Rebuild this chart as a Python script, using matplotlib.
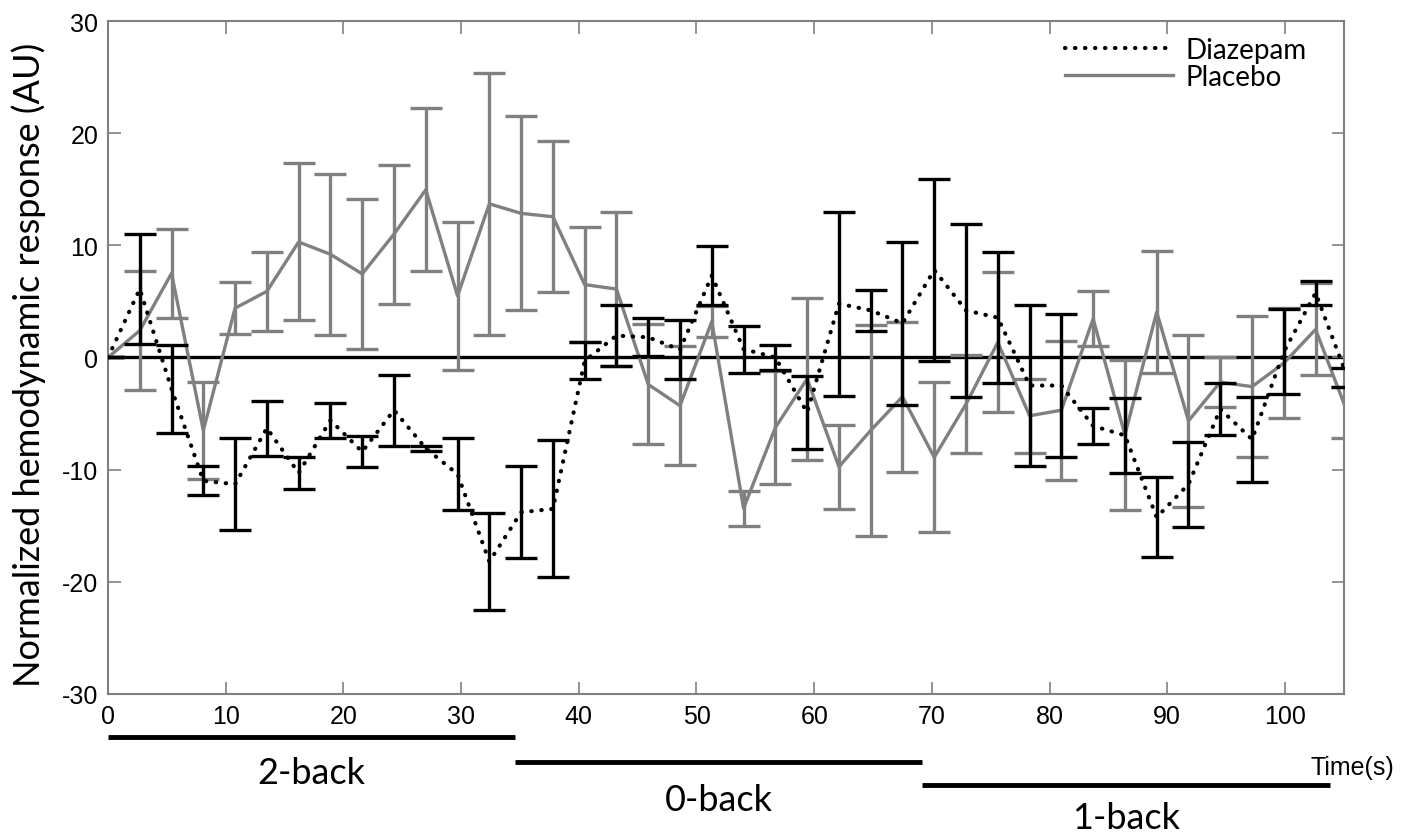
import matplotlib
matplotlib.use("Agg")
import matplotlib.pyplot as plt

# time points (s)
time_s = [0, 2.7, 5.4, 8.1, 10.8, 13.5, 16.2, 18.9, 21.6, 24.3,
          27.0, 29.7, 32.4, 35.1, 37.8, 40.5, 43.2, 45.9, 48.6, 51.3,
          54.0, 56.7, 59.4, 62.1, 64.8, 67.5, 70.2, 72.9, 75.6, 78.3,
          81.0, 83.7, 86.4, 89.1, 91.8, 94.5, 97.2, 99.9, 102.6, 105.3]

diazepam = [0, 6.1, -2.8, -11.0, -11.3, -6.3, -10.3, -5.6, -8.4, -4.7,
            -8.1, -10.4, -18.2, -13.8, -13.5, -0.3, 1.95, 1.8, 0.7, 7.3,
            0.75, 0.0, -4.9, 4.8, 4.2, 3.05, 7.8, 4.2, 3.55, -2.5,
            -2.5, -6.1, -6.95, -14.25, -11.3, -4.6, -7.3, 0.5, 5.75, -1.75]
diazepam_err = [0, 4.9, 3.9, 1.3, 4.1, 2.45, 1.4, 1.55, 1.4, 3.15,
                0.25, 3.2, 4.3, 4.1, 6.1, 1.65, 2.7, 1.7, 2.6, 2.6,
                2.1, 1.15, 3.25, 8.2, 1.85, 7.25, 8.1, 7.7, 5.85, 7.2,
                6.4, 1.6, 3.35, 3.55, 3.8, 2.3, 3.8, 3.8, 1.05, 0.85]

placebo = [0, 2.4, 7.5, -6.5, 4.4, 5.9, 10.3, 9.2, 7.45, 11.0,
           14.95, 5.5, 13.7, 12.85, 12.55, 6.5, 6.1, -2.4, -4.3, 3.2,
           -13.45, -6.25, -1.9, -9.75, -6.5, -3.5, -8.9, -4.15, 1.35, -5.2,
           -4.7, 3.45, -6.9, 4.05, -5.65, -2.2, -2.6, -0.5, 2.5, -4.9]
placebo_err = [0, 5.3, 4.0, 4.3, 2.3, 3.5, 7.0, 7.2, 6.65, 6.2,
               7.25, 6.6, 11.7, 8.65, 6.75, 5.1, 6.9, 5.35, 5.3, 1.4,
               1.55, 5.05, 7.2, 3.75, 9.4, 6.7, 6.7, 4.4, 6.25, 3.3,
               6.2, 2.45, 6.7, 5.4, 7.65, 2.2, 6.3, 4.9, 4.1, 2.3]

blocks = ["2-back", "0-back", "1-back"]
block_edges = [0, 34.6, 69.2, 103.8]

plt.rcParams['font.family'] = ['Liberation Sans', 'DejaVu Sans']
plt.rcParams['axes.unicode_minus'] = False

fig = plt.figure(figsize=(14.06, 8.37), dpi=100)
ax = fig.add_axes([0.0768, 0.1697, 0.879, 0.804])

gray = '#808080'
ax.axhline(0, color='black', lw=2.4, zorder=1)

ax.errorbar(time_s, placebo, yerr=placebo_err, fmt='none', ecolor=gray,
            elinewidth=2.4, capsize=11.5, capthick=2.4, zorder=2)
ax.plot(time_s, placebo, color=gray, lw=2.4, zorder=2, label='Placebo')

ax.errorbar(time_s, diazepam, yerr=diazepam_err, fmt='none', ecolor='black',
            elinewidth=2.4, capsize=11.5, capthick=2.4, zorder=3)
ax.plot(time_s, diazepam, color='black', lw=3, ls=(0, (0.1, 2.3)),
        dash_capstyle='round', zorder=3, label='Diazepam')

ax.set_xlim(0, 105)
ax.set_ylim(-30, 30)
ax.set_xticks(range(0, 101, 10))
ax.set_yticks(range(-30, 31, 10))
ax.tick_params(direction='in', length=9, width=1.2, color=gray,
               top=True, right=True, labelsize=18, pad=7)
for s in ax.spines.values():
    s.set_color(gray)
    s.set_linewidth(1.5)

ax.set_ylabel('Normalized hemodynamic response (AU)', fontsize=26,
              family=['Lato', 'DejaVu Sans'])
ax.yaxis.set_label_coords(-0.05, 0.49)

h, l = ax.get_legend_handles_labels()
ax.legend([h[1], h[0]], [l[1], l[0]], loc='upper left',
          bbox_to_anchor=(0.754, 1.014), frameon=False,
          handlelength=3.9, handletextpad=0.45, labelspacing=0.05,
          prop={'family': ['Lato', 'DejaVu Sans'], 'size': 20})

# task blocks under the axis
tr = ax.get_xaxis_transform()
bar_y = [-0.064, -0.101, -0.135]
lab_y = [-0.117, -0.157, -0.184]
for i, name in enumerate(blocks):
    x0, x1 = block_edges[i], block_edges[i + 1]
    ax.plot([x0, x1], [bar_y[i], bar_y[i]], color='black', lw=3.5,
            transform=tr, clip_on=False, solid_capstyle='butt')
    ax.text((x0 + x1) / 2, lab_y[i], name, transform=tr, ha='center',
            va='center', fontsize=26, family=['Lato', 'DejaVu Sans'])

ax.text(1.041, -0.108, 'Time(s)', transform=ax.transAxes, ha='right',
        va='center', fontsize=18)

fig.savefig('out.png', dpi=100)
